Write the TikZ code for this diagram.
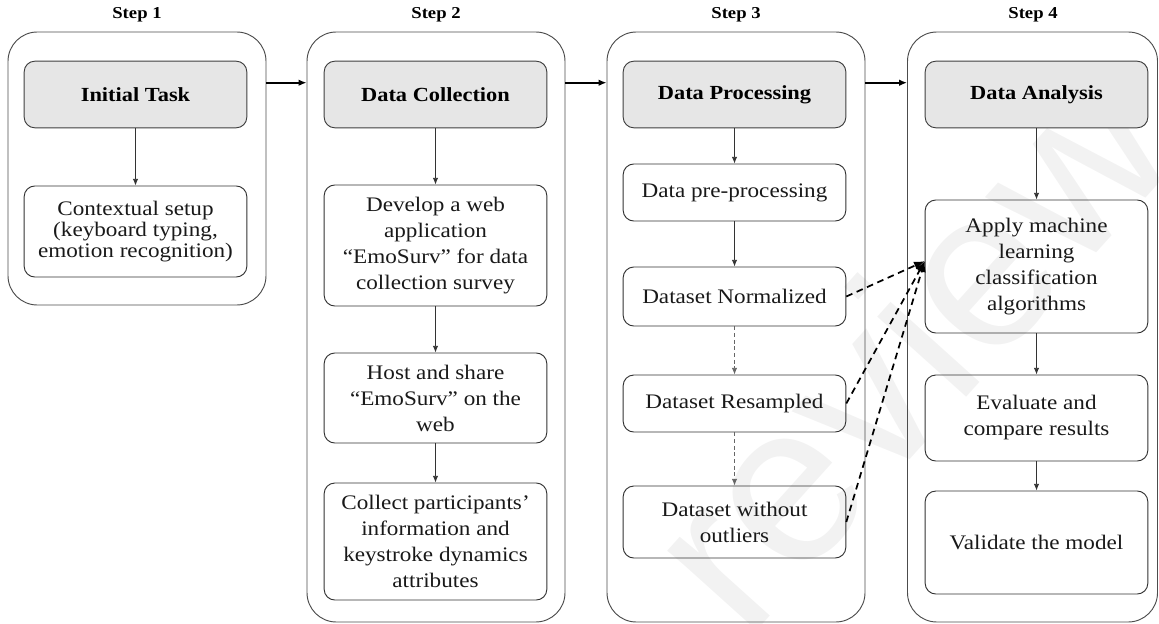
\documentclass[tikz,border=0pt]{standalone}
\usepackage{fontspec}
\setmainfont{Liberation Serif}[FakeStretch=1.12]
\newfontfamily\markfont{Liberation Sans}
\usetikzlibrary{arrows.meta}
\definecolor{headgray}{RGB}{230,230,230}
\definecolor{markgray}{RGB}{242,242,242}
\tikzset{
  stepbox/.style={draw=black!70, line width=0.7pt, rounded corners=22pt, minimum width=193.5pt, minimum height=442.5pt},
  headbox/.style={draw=black!75, fill=headgray, line width=0.7pt, rounded corners=8pt, minimum width=167pt, minimum height=50pt, font=\fontsize{15}{15}\selectfont\bfseries},
  taskbox/.style={draw=black!80, line width=0.7pt, rounded corners=8pt, minimum width=167pt, align=center, inner sep=2pt, text=black!90, font=\fontsize{15.5}{19.5}\selectfont},
  steplabel/.style={font=\fontsize{12.5}{12.5}\selectfont\bfseries},
  flow/.style={-{Latex[length=5pt,width=4pt]}, draw=black!80, line width=0.6pt},
  soft/.style={flow, draw=black!60, dash pattern=on 3pt off 2pt},
  jump/.style={-{Latex[length=6pt,width=5pt]}, line width=1.3pt},
  feed/.style={-{Latex[length=8pt,width=6.5pt]}, line width=1.3pt, dash pattern=on 5pt off 3.5pt},
}
\begin{document}
\begin{tikzpicture}[x=0.75pt,y=-0.75pt]
\useasboundingbox (0,0) rectangle (1159,624);
% faint watermark
\node[rotate=48, text=markgray, font=\markfont\fontsize{170}{170}\selectfont] (mark) at (905,345) {review};

% step frames
\node[stepbox, minimum height=204.75pt] (s1) at (137,168.5) {};
\node[stepbox] (s2) at (436,327) {};
\node[stepbox] (s3) at (736,327) {};
\node[stepbox, minimum width=187.5pt] (s4) at (1032.5,327) {};
\node[steplabel] (l1) at (137,15) {Step 1};
\node[steplabel] (l2) at (436,15) {Step 2};
\node[steplabel] (l3) at (736,15) {Step 3};
\node[steplabel] (l4) at (1033,15) {Step 4};

% headers
\node[headbox] (h1) at (135.5,94.5) {Initial Task};
\node[headbox] (h2) at (435.5,94.5) {Data Collection};
\node[headbox] (h3) at (734.5,94.5) {Data Processing};
\node[headbox] (h4) at (1036.5,94.5) {Data Analysis};

% step 1
\node[taskbox, minimum height=68.25pt, font=\fontsize{15.5}{16}\selectfont] (c1) at (135.5,231.5) {Contextual setup\\(keyboard typing,\\emotion recognition)};

% step 2
\node[taskbox, minimum height=90.75pt] (d1) at (435.5,245.5) {Develop a web\\application\\“EmoSurv” for data\\collection survey};
\node[taskbox, minimum height=67.5pt] (d2) at (435.5,398) {Host and share\\“EmoSurv” on the\\web};
\node[taskbox, minimum height=87.75pt] (d3) at (435.5,541.5) {Collect participants’\\information and\\keystroke dynamics\\attributes};

% step 3
\node[taskbox, minimum height=42.75pt] (p1) at (734.5,192.5) {Data pre-processing};
\node[taskbox, minimum height=44.25pt] (p2) at (734.5,296.5) {Dataset Normalized};
\node[taskbox, minimum height=42.75pt] (p3) at (734.5,403.5) {Dataset Resampled};
\node[taskbox, minimum height=54pt] (p4) at (734.5,522) {Dataset without\\outliers};

% step 4
\node[taskbox, minimum height=99.75pt] (a1) at (1036.5,266.5) {Apply machine\\learning\\classification\\algorithms};
\node[taskbox, minimum height=64.5pt] (a2) at (1036.5,418) {Evaluate and\\compare results};
\node[taskbox, minimum height=77.25pt] (a3) at (1036.5,542.5) {Validate the model};

% between steps
\draw[jump] ([yshift=-16.5pt]s1.east |- h1.north) -- ([yshift=-16.5pt]s2.west |- h1.north);
\draw[jump] ([yshift=-16.5pt]s2.east |- h1.north) -- ([yshift=-16.5pt]s3.west |- h1.north);
\draw[jump] ([yshift=-16.5pt]s3.east |- h1.north) -- ([yshift=-16.5pt]s4.west |- h1.north);

% inside the steps
\draw[flow] (h1) -- (c1);
\draw[flow] (h2) -- (d1);
\draw[flow] (d1) -- (d2);
\draw[flow] (d2) -- (d3);
\draw[flow] (h3) -- (p1);
\draw[flow] (p1) -- (p2);
\draw[soft] (p2) -- (p3);
\draw[soft] (p3) -- (p4);
\draw[flow] (h4) -- (a1);
\draw[flow] (a1) -- (a2);
\draw[flow] (a2) -- (a3);

% datasets into the classifiers
\draw[feed] (p2.east) -- ([yshift=4pt]a1.west);
\draw[feed] (p3.east) -- ([yshift=4pt]a1.west);
\draw[feed] (p4.east) -- ([yshift=4pt]a1.west);
\end{tikzpicture}
\end{document}
